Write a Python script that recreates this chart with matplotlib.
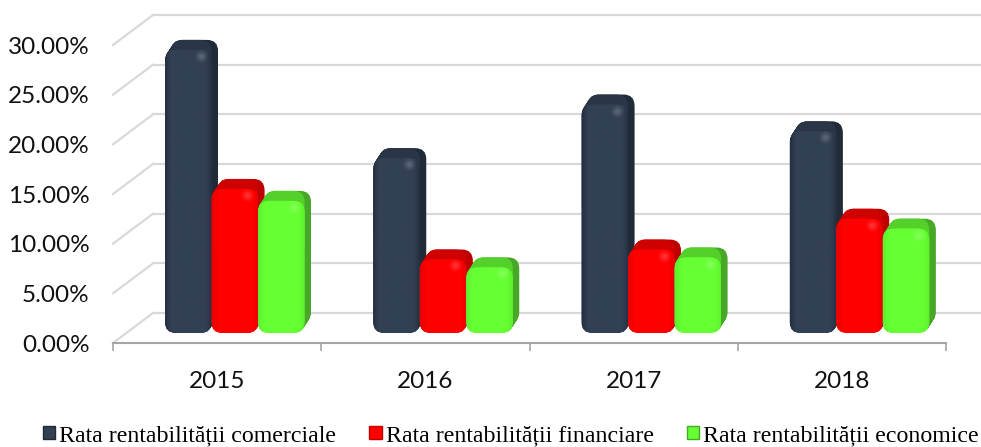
import matplotlib
matplotlib.use('Agg')
import matplotlib.pyplot as plt
import matplotlib.transforms as mtransforms
from matplotlib.patches import FancyBboxPatch, Patch
from matplotlib.colors import LinearSegmentedColormap
import numpy as np

years = ['2015', '2016', '2017', '2018']
comerciale = [28.5, 17.6, 23.0, 20.3]
financiare = [14.5, 7.4, 8.4, 11.5]
economice = [13.3, 6.6, 7.6, 10.5]
series_names = ['Rata rentabilității comerciale', 'Rata rentabilității financiare', 'Rata rentabilității economice']
y_ticks = [0, 5, 10, 15, 20, 25, 30]

W, H = 981, 447
fig = plt.figure(figsize=(W / 100, H / 100), dpi=100)
# front plane of the fake 3d box, in pixels: x 113-946, y 343-45
ax = fig.add_axes([113 / W, (H - 343) / H, (946 - 113) / W, (343 - 45) / H])
ax.set_xlim(0, 4)
ax.set_ylim(0, 30)

px_x = 833 / 4
px_y = 298 / 30
depth_x = 40 / px_x
depth_y = 30 / px_y

for t in y_ticks:
    ax.plot([depth_x, 4 + depth_x], [t + depth_y, t + depth_y], color='#d9d9d9', lw=1.6, clip_on=False, zorder=1)
    ax.plot([0, depth_x], [t, t + depth_y], color='#d9d9d9', lw=1.6, clip_on=False, zorder=1)

colors = [
    dict(face='#324054', edge='#262f40', side='#202a38', top='#2a3648'),
    dict(face='#ff0000', edge='#e40000', side='#bf0000', top='#cf0000'),
    dict(face='#66ff33', edge='#5cf02e', side='#46a826', top='#55d02a'),
]

bar_w = 46.5 / px_x
start = (165 - 113) / px_x   # left edge of first bar in its group
plane = mtransforms.offset_copy(ax.transData, fig=fig, x=0, y=10, units='dots')


def draw_bar(x, val, c, z):
    aspect = px_x / px_y
    r = 11 / px_x
    box = f'round,pad=0,rounding_size={r}'
    # extruded back part, dark side first and then the top band over it
    for k in np.arange(10, 0, -0.5):
        tr = mtransforms.offset_copy(plane, fig=fig, x=k * 0.65, y=k, units='dots')
        ax.add_patch(FancyBboxPatch((x, 0), bar_w, val, boxstyle=box, mutation_aspect=aspect,
                                    transform=tr, fc=c['side'], ec='none', clip_on=False, zorder=z))
    for k in np.arange(10, 0, -0.5):
        tr = mtransforms.offset_copy(plane, fig=fig, x=k * 0.65, y=k, units='dots')
        ax.add_patch(FancyBboxPatch((x, val * 0.5), bar_w - 6.5 / px_x, val * 0.5, boxstyle=box, mutation_aspect=aspect,
                                    transform=tr, fc=c['top'], ec='none', clip_on=False, zorder=z + 0.05))
    face = FancyBboxPatch((x, 0), bar_w, val, boxstyle=box, mutation_aspect=aspect,
                          transform=plane, fc=c['face'], ec='none', clip_on=False, zorder=z + 0.1)
    ax.add_patch(face)
    cmap = LinearSegmentedColormap.from_list('b', [(0, c['edge']), (0.12, c['face']), (0.88, c['face']), (1, c['edge'])])
    im = ax.imshow(np.linspace(0, 1, 64).reshape(1, -1), cmap=cmap, aspect='auto',
                   extent=(x, x + bar_w, 0, val), transform=plane, zorder=z + 0.2)
    im.set_clip_path(face)
    # soft shine near the top right corner
    for ms, a in [(9, 0.05), (6, 0.07), (3.5, 0.08)]:
        ax.plot([x + bar_w - 11 / px_x], [val - 6 / px_y], 'o', ms=ms, mfc='white', mec='none', alpha=a,
                transform=plane, clip_on=False, zorder=z + 0.3)


for i in range(4):
    for j, vals in enumerate([comerciale, financiare, economice]):
        draw_bar(i + start + j * bar_w, vals[i], colors[j], 3 + j)

ax.set_xlim(0, 4)
ax.set_ylim(0, 30)
for s in ['top', 'right', 'left']:
    ax.spines[s].set_visible(False)
ax.spines['bottom'].set_color('#a6a6a6')
ax.spines['bottom'].set_linewidth(1.5)
ax.spines['bottom'].set_zorder(2)

ax.set_xticks(range(5))
ax.set_xticklabels([])
ax.set_xticks(np.arange(4) + 0.5, years, minor=True)
ax.tick_params(axis='x', which='major', length=6, width=1.2, color='#a6a6a6')
ax.tick_params(axis='x', which='minor', length=0, pad=20, labelsize=17.5, labelcolor='#111111')
ax.set_yticks(y_ticks)
ax.set_yticklabels([f'{t:.2f}%' for t in y_ticks], fontsize=17.5, color='#111111')
ax.tick_params(axis='y', length=0, pad=17)
for lab in ax.get_xticklabels(minor=True) + ax.get_yticklabels():
    lab.set_family('Lato')

handles = [Patch(fc=colors[j]['face'], ec=colors[j]['side']) for j in range(3)]
leg = fig.legend(handles, series_names, ncol=3, loc='lower left', bbox_to_anchor=(43 / W, 1 / H),
                 frameon=False, handlelength=0.52, handleheight=0.45, handletextpad=0.17, columnspacing=1.38,
                 borderpad=0, borderaxespad=0,
                 prop={'family': 'Liberation Serif', 'size': 17.2})

fig.savefig('out.png', dpi=100)
